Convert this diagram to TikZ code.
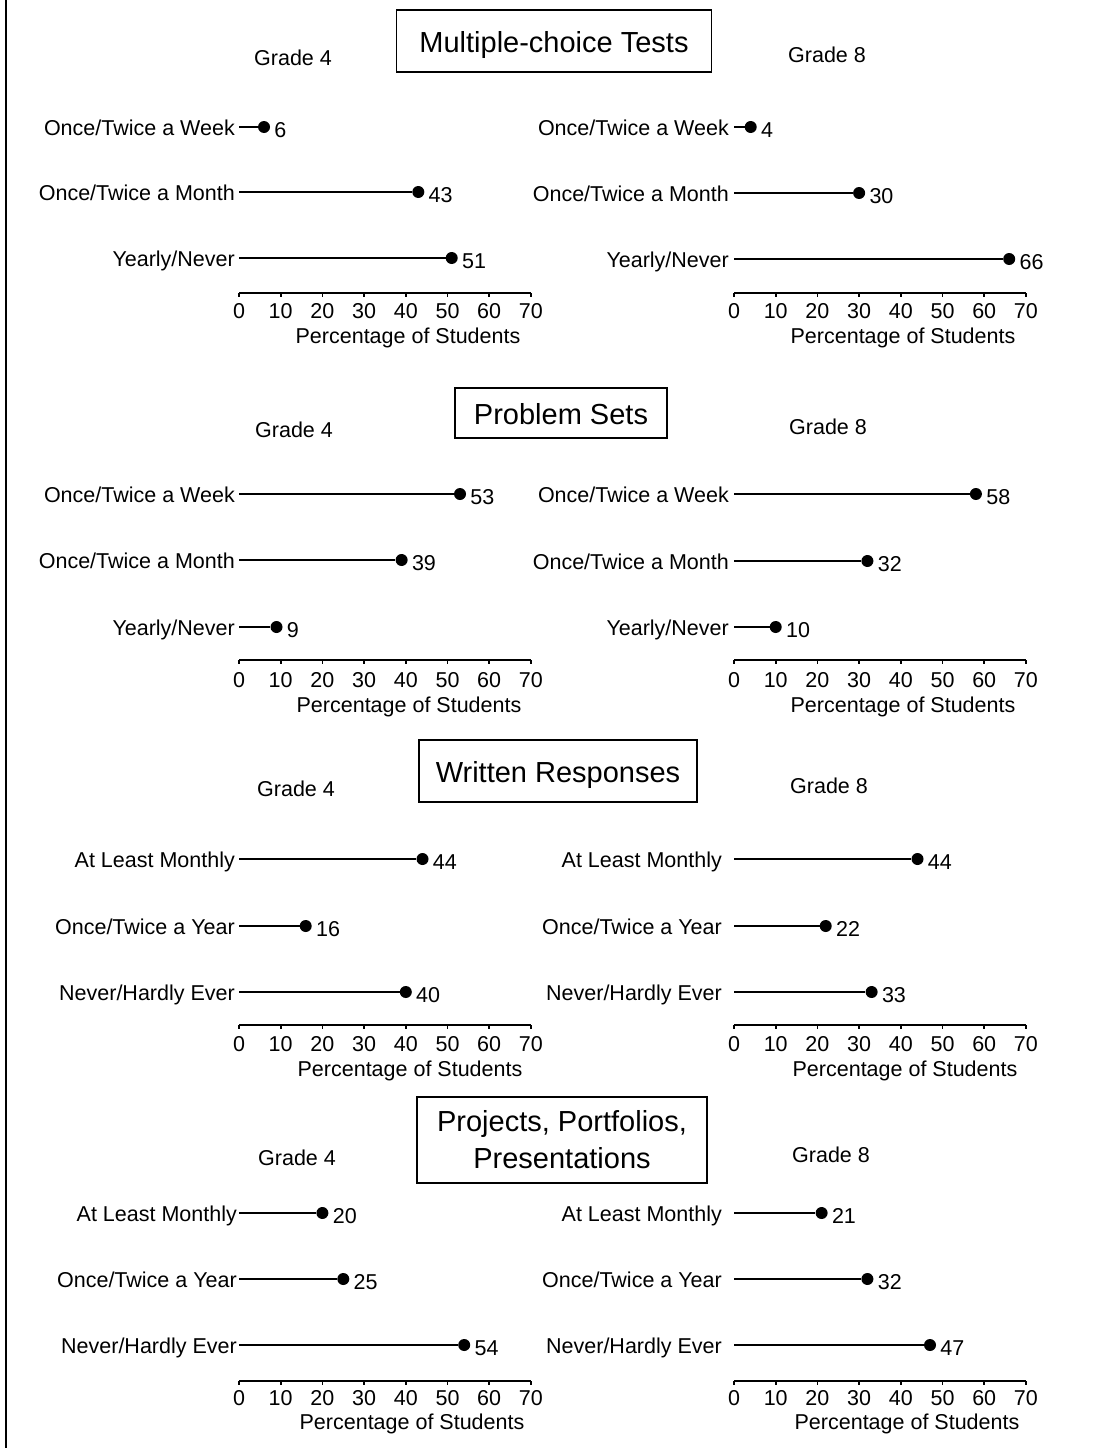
\documentclass[tikz,border=0pt]{standalone}
\usepackage{fontspec}
\setmainfont{Liberation Sans}
\usetikzlibrary{positioning}
\tikzset{
  every node/.style={font=\fontsize{21.5}{24}\selectfont},
  title/.style={draw, line width=1.3pt, align=center, font=\fontsize{29}{37}\selectfont},
  onerow/.style={text height=23pt, text depth=0pt},
  cat/.style={anchor=east, inner xsep=4pt, inner ysep=0pt, text height=16pt, text depth=0pt},
  catw/.style={cat, inner xsep=12pt},
  dot/.style={circle, fill=black, inner sep=0pt, minimum size=12pt},
  val/.style={anchor=west, inner sep=0pt, xshift=4pt, yshift=-2pt, text height=16pt, text depth=0pt},
  bar/.style={line width=2.2pt},
  axis/.style={line width=1.6pt},
}
\begin{document}
\begin{tikzpicture}[x=1pt,y=-1pt]
\useasboundingbox (0,0) rectangle (1113,1448);
\draw [line width=2pt] (6,0) -- (6,1448);
%
% Multiple-choice Tests
\node[title, onerow, minimum width=315pt, minimum height=62pt] (mct) at (554,41) {Multiple-choice Tests};
\node (mc4g) at (293,58) {Grade 4};
\node (mc8g) at (827,55) {Grade 8};
\node[cat] (mc4a) at (239,127) {Once/Twice a Week};
\node[cat] (mc4b) at (239,192) {Once/Twice a Month};
\node[cat] (mc4c) at (239,258) {Yearly/Never};
\node[dot] (mc4ad) at (264.0,127) {};
\node[dot] (mc4bd) at (418.3,192) {};
\node[dot] (mc4cd) at (451.7,258) {};
\node[val] (mc4av) at (mc4ad.east) {6};
\node[val] (mc4bv) at (mc4bd.east) {43};
\node[val] (mc4cv) at (mc4cd.east) {51};
\draw[bar] (mc4a.east) -- (mc4ad);
\draw[bar] (mc4b.east) -- (mc4bd);
\draw[bar] (mc4c.east) -- (mc4cd);
\node[cat, inner xsep=5pt] (mc8a) at (734,127) {Once/Twice a Week};
\node[cat, inner xsep=5pt] (mc8b) at (734,193) {Once/Twice a Month};
\node[cat, inner xsep=5pt] (mc8c) at (734,259) {Yearly/Never};
\node[dot] (mc8ad) at (750.7,127) {};
\node[dot] (mc8bd) at (859.1,193) {};
\node[dot] (mc8cd) at (1009.2,259) {};
\node[val] (mc8av) at (mc8ad.east) {4};
\node[val] (mc8bv) at (mc8bd.east) {30};
\node[val] (mc8cv) at (mc8cd.east) {66};
\draw[bar] (mc8a.east) -- (mc8ad);
\draw[bar] (mc8b.east) -- (mc8bd);
\draw[bar] (mc8c.east) -- (mc8cd);
\draw[axis] (239,293) -- (531,293);
\draw[axis] (734,293) -- (1026,293);
\foreach \v in {0,10,...,70} {
  \draw[axis] ({239+4.17*\v},293) -- ++(0,4);
  \draw[axis] ({734+4.17*\v},293) -- ++(0,4);
  \node (mc4t\v) at ({239+4.17*\v},311) {\v};
  \node (mc8t\v) at ({734+4.17*\v},311) {\v};
}
\node (mc4p) at (408,338) {Percentage of Students};
\node (mc8p) at (903,338) {Percentage of Students};
%
% Problem Sets
\node[title, onerow, minimum width=212pt, minimum height=50pt] (pst) at (561,413) {Problem Sets};
\node (ps4g) at (294,430) {Grade 4};
\node (ps8g) at (828,427) {Grade 8};
\node[cat] (ps4a) at (239,494) {Once/Twice a Week};
\node[cat] (ps4b) at (239,560) {Once/Twice a Month};
\node[cat] (ps4c) at (239,627) {Yearly/Never};
\node[dot] (ps4ad) at (460.0,494) {};
\node[dot] (ps4bd) at (401.6,560) {};
\node[dot] (ps4cd) at (276.5,627) {};
\node[val] (ps4av) at (ps4ad.east) {53};
\node[val] (ps4bv) at (ps4bd.east) {39};
\node[val] (ps4cv) at (ps4cd.east) {9};
\draw[bar] (ps4a.east) -- (ps4ad);
\draw[bar] (ps4b.east) -- (ps4bd);
\draw[bar] (ps4c.east) -- (ps4cd);
\node[cat, inner xsep=5pt] (ps8a) at (734,494) {Once/Twice a Week};
\node[cat, inner xsep=5pt] (ps8b) at (734,561) {Once/Twice a Month};
\node[cat, inner xsep=5pt] (ps8c) at (734,627) {Yearly/Never};
\node[dot] (ps8ad) at (975.9,494) {};
\node[dot] (ps8bd) at (867.4,561) {};
\node[dot] (ps8cd) at (775.7,627) {};
\node[val] (ps8av) at (ps8ad.east) {58};
\node[val] (ps8bv) at (ps8bd.east) {32};
\node[val] (ps8cv) at (ps8cd.east) {10};
\draw[bar] (ps8a.east) -- (ps8ad);
\draw[bar] (ps8b.east) -- (ps8bd);
\draw[bar] (ps8c.east) -- (ps8cd);
\draw[axis] (239,660) -- (531,660);
\draw[axis] (734,660) -- (1026,660);
\foreach \v in {0,10,...,70} {
  \draw[axis] ({239+4.17*\v},660) -- ++(0,4);
  \draw[axis] ({734+4.17*\v},660) -- ++(0,4);
  \node (ps4t\v) at ({239+4.17*\v},680) {\v};
  \node (ps8t\v) at ({734+4.17*\v},680) {\v};
}
\node (ps4p) at (409,707) {Percentage of Students};
\node (ps8p) at (903,707) {Percentage of Students};
%
% Written Responses
\node[title, onerow, minimum width=278pt, minimum height=62pt] (wrt) at (558,771) {Written Responses};
\node (wr4g) at (296,789) {Grade 4};
\node (wr8g) at (829,786) {Grade 8};
\node[cat] (wr4a) at (239,859) {At Least Monthly};
\node[cat] (wr4b) at (239,926) {Once/Twice a Year};
\node[cat] (wr4c) at (239,992) {Never/Hardly Ever};
\node[dot] (wr4ad) at (422.5,859) {};
\node[dot] (wr4bd) at (305.7,926) {};
\node[dot] (wr4cd) at (405.8,992) {};
\node[val] (wr4av) at (wr4ad.east) {44};
\node[val] (wr4bv) at (wr4bd.east) {16};
\node[val] (wr4cv) at (wr4cd.east) {40};
\draw[bar] (wr4a.east) -- (wr4ad);
\draw[bar] (wr4b.east) -- (wr4bd);
\draw[bar] (wr4c.east) -- (wr4cd);
\node[catw] (wr8a) at (734,859) {At Least Monthly};
\node[catw] (wr8b) at (734,926) {Once/Twice a Year};
\node[catw] (wr8c) at (734,992) {Never/Hardly Ever};
\node[dot] (wr8ad) at (917.5,859) {};
\node[dot] (wr8bd) at (825.7,926) {};
\node[dot] (wr8cd) at (871.6,992) {};
\node[val] (wr8av) at (wr8ad.east) {44};
\node[val] (wr8bv) at (wr8bd.east) {22};
\node[val] (wr8cv) at (wr8cd.east) {33};
\draw[bar] (wr8a.east) -- (wr8ad);
\draw[bar] (wr8b.east) -- (wr8bd);
\draw[bar] (wr8c.east) -- (wr8cd);
\draw[axis] (239,1025) -- (531,1025);
\draw[axis] (734,1025) -- (1026,1025);
\foreach \v in {0,10,...,70} {
  \draw[axis] ({239+4.17*\v},1025) -- ++(0,4);
  \draw[axis] ({734+4.17*\v},1025) -- ++(0,4);
  \node (wr4t\v) at ({239+4.17*\v},1044) {\v};
  \node (wr8t\v) at ({734+4.17*\v},1044) {\v};
}
\node (wr4p) at (410,1071) {Percentage of Students};
\node (wr8p) at (905,1071) {Percentage of Students};
%
% Projects, Portfolios, Presentations
\node[title, minimum width=290pt, minimum height=86pt] (ppt) at (562,1140) {Projects, Portfolios,\\Presentations};
\node (pp4g) at (297,1158) {Grade 4};
\node (pp8g) at (831,1155) {Grade 8};
\node[cat, inner xsep=2pt] (pp4a) at (239,1213) {At Least Monthly};
\node[cat, inner xsep=2pt] (pp4b) at (239,1279) {Once/Twice a Year};
\node[cat, inner xsep=2pt] (pp4c) at (239,1345) {Never/Hardly Ever};
\node[dot] (pp4ad) at (322.4,1213) {};
\node[dot] (pp4bd) at (343.3,1279) {};
\node[dot] (pp4cd) at (464.2,1345) {};
\node[val] (pp4av) at (pp4ad.east) {20};
\node[val] (pp4bv) at (pp4bd.east) {25};
\node[val] (pp4cv) at (pp4cd.east) {54};
\draw[bar] (pp4a.east) -- (pp4ad);
\draw[bar] (pp4b.east) -- (pp4bd);
\draw[bar] (pp4c.east) -- (pp4cd);
\node[catw] (pp8a) at (734,1213) {At Least Monthly};
\node[catw] (pp8b) at (734,1279) {Once/Twice a Year};
\node[catw] (pp8c) at (734,1345) {Never/Hardly Ever};
\node[dot] (pp8ad) at (821.6,1213) {};
\node[dot] (pp8bd) at (867.4,1279) {};
\node[dot] (pp8cd) at (930.0,1345) {};
\node[val] (pp8av) at (pp8ad.east) {21};
\node[val] (pp8bv) at (pp8bd.east) {32};
\node[val] (pp8cv) at (pp8cd.east) {47};
\draw[bar] (pp8a.east) -- (pp8ad);
\draw[bar] (pp8b.east) -- (pp8bd);
\draw[bar] (pp8c.east) -- (pp8cd);
\draw[axis] (239,1381) -- (531,1381);
\draw[axis] (734,1381) -- (1026,1381);
\foreach \v in {0,10,...,70} {
  \draw[axis] ({239+4.17*\v},1381) -- ++(0,4);
  \draw[axis] ({734+4.17*\v},1381) -- ++(0,4);
  \node (pp4t\v) at ({239+4.17*\v},1398) {\v};
  \node (pp8t\v) at ({734+4.17*\v},1398) {\v};
}
\node (pp4p) at (412,1424) {Percentage of Students};
\node (pp8p) at (907,1424) {Percentage of Students};
\end{tikzpicture}
\end{document}
